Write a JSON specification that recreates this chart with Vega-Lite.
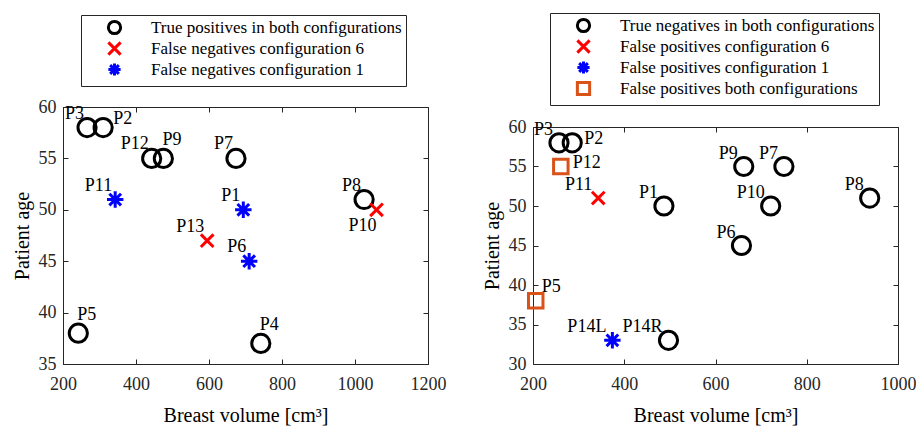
{
  "$schema": "https://vega.github.io/schema/vega-lite/v6.json",
  "background": "white",
  "padding": {"left": 11, "top": 12, "right": 0, "bottom": 0},
  "datasets": {
    "left": [
      {"label": "P3", "vol": 266, "age": 58, "cat": "True positives in both configurations"},
      {"label": "P2", "vol": 310, "age": 58, "cat": "True positives in both configurations"},
      {"label": "P12", "vol": 443, "age": 55, "cat": "True positives in both configurations"},
      {"label": "P9", "vol": 475, "age": 55, "cat": "True positives in both configurations"},
      {"label": "P7", "vol": 674, "age": 55, "cat": "True positives in both configurations"},
      {"label": "P8", "vol": 1025, "age": 51, "cat": "True positives in both configurations"},
      {"label": "P5", "vol": 242, "age": 38, "cat": "True positives in both configurations"},
      {"label": "P4", "vol": 742, "age": 37, "cat": "True positives in both configurations"},
      {"label": "P13", "vol": 595, "age": 47, "cat": "False negatives configuration 6"},
      {"label": "P10", "vol": 1059, "age": 50, "cat": "False negatives configuration 6"},
      {"label": "P11", "vol": 343, "age": 51, "cat": "False negatives configuration 1"},
      {"label": "P1", "vol": 694, "age": 50, "cat": "False negatives configuration 1"},
      {"label": "P6", "vol": 710, "age": 45, "cat": "False negatives configuration 1"}
    ],
    "right": [
      {"label": "P3", "vol": 257, "age": 58, "cat": "True negatives in both configurations"},
      {"label": "P2", "vol": 286, "age": 58, "cat": "True negatives in both configurations"},
      {"label": "P1", "vol": 487, "age": 50, "cat": "True negatives in both configurations"},
      {"label": "P9", "vol": 662, "age": 55, "cat": "True negatives in both configurations"},
      {"label": "P7", "vol": 750, "age": 55, "cat": "True negatives in both configurations"},
      {"label": "P10", "vol": 721, "age": 50, "cat": "True negatives in both configurations"},
      {"label": "P8", "vol": 938, "age": 51, "cat": "True negatives in both configurations"},
      {"label": "P6", "vol": 657, "age": 45, "cat": "True negatives in both configurations"},
      {"label": "P14R", "vol": 497, "age": 33, "cat": "True negatives in both configurations"},
      {"label": "P11", "vol": 343, "age": 51, "cat": "False positives configuration 6"},
      {"label": "P14L", "vol": 374, "age": 33, "cat": "False positives configuration 1"},
      {"label": "P12", "vol": 261, "age": 55, "cat": "False positives both configurations"},
      {"label": "P5", "vol": 206, "age": 38, "cat": "False positives both configurations"}
    ]
  },
  "hconcat": [
    {
      "width": 365,
      "height": 257,
      "data": {"name": "left"},
      "resolve": {"axis": {"x": "independent", "y": "independent"}},
      "layer": [
        {
          "mark": {"type": "point", "filled": false, "strokeWidth": 3, "opacity": 1},
          "encoding": {
            "x": {"field": "vol", "type": "quantitative", "scale": {"domain": [200, 1200], "nice": false}, "axis": {"values": [200, 400, 600, 800, 1000, 1200], "title": "Breast volume [cm³]"}},
            "y": {"field": "age", "type": "quantitative", "scale": {"domain": [35, 60], "nice": false, "zero": false}, "axis": {"values": [35, 40, 45, 50, 55, 60], "title": "Patient age"}},
            "color": {"field": "cat", "type": "nominal",
              "scale": {"domain": ["True positives in both configurations", "False negatives configuration 6", "False negatives configuration 1"], "range": ["#000000", "#FF0000", "#0000FF"]},
              "legend": {"title": null, "orient": "none", "legendX": 18, "legendY": -92}},
            "shape": {"field": "cat", "type": "nominal",
              "scale": {"domain": ["True positives in both configurations", "False negatives configuration 6", "False negatives configuration 1"], "range": ["circle", "M-1,-1L1,1M-1,1L1,-1", "M0,-1L0,1M-1,0L1,0M-0.71,-0.71L0.71,0.71M-0.71,0.71L0.71,-0.71"]},
              "legend": {"title": null, "orient": "none", "legendX": 18, "legendY": -92}},
            "size": {"condition": [
              {"test": "datum.cat == 'True positives in both configurations'", "value": 330},
              {"test": "datum.cat == 'False negatives configuration 6'", "value": 160}
            ], "value": 270}
          }
        },
        {
          "transform": [{"filter": {"field": "label", "oneOf": ["P3", "P12", "P7", "P11", "P1", "P13", "P6", "P8"]}}],
          "mark": {"type": "text", "align": "right", "baseline": "middle", "dx": -3, "dy": -14, "font": "Liberation Serif, Times New Roman, serif", "fontSize": 18, "color": "#000000"},
          "encoding": {
            "x": {"field": "vol", "type": "quantitative", "axis": {"orient": "top", "labels": false, "title": null, "values": [200, 400, 600, 800, 1000, 1200], "domain": false}},
            "y": {"field": "age", "type": "quantitative", "axis": {"orient": "right", "labels": false, "title": null, "values": [35, 40, 45, 50, 55, 60], "domain": false}},
            "text": {"field": "label"}
          }
        },
        {
          "transform": [{"filter": {"field": "label", "oneOf": ["P9", "P5", "P4"]}}],
          "mark": {"type": "text", "align": "left", "baseline": "middle", "dx": -1, "dy": -18, "font": "Liberation Serif, Times New Roman, serif", "fontSize": 18, "color": "#000000"},
          "encoding": {
            "x": {"field": "vol", "type": "quantitative", "axis": null},
            "y": {"field": "age", "type": "quantitative", "axis": null},
            "text": {"field": "label"}
          }
        },
        {
          "transform": [{"filter": {"field": "label", "oneOf": ["P2"]}}],
          "mark": {"type": "text", "align": "left", "baseline": "middle", "dx": 10, "dy": -9, "font": "Liberation Serif, Times New Roman, serif", "fontSize": 18, "color": "#000000"},
          "encoding": {
            "x": {"field": "vol", "type": "quantitative", "axis": null},
            "y": {"field": "age", "type": "quantitative", "axis": null},
            "text": {"field": "label"}
          }
        },
        {
          "transform": [{"filter": {"field": "label", "oneOf": ["P10"]}}],
          "mark": {"type": "text", "align": "right", "baseline": "middle", "dx": 0, "dy": 16, "font": "Liberation Serif, Times New Roman, serif", "fontSize": 18, "color": "#000000"},
          "encoding": {
            "x": {"field": "vol", "type": "quantitative", "axis": null},
            "y": {"field": "age", "type": "quantitative", "axis": null},
            "text": {"field": "label"}
          }
        }
      ]
    },
    {
      "width": 365,
      "height": 257,
      "view": {"stroke": null},
      "data": {"name": "right"},
      "resolve": {"axis": {"x": "independent", "y": "independent"}},
      "layer": [
        {
          "mark": {"type": "point", "filled": false, "strokeWidth": 3, "opacity": 1},
          "encoding": {
            "x": {"field": "vol", "type": "quantitative", "scale": {"domain": [200, 1000], "nice": false}, "axis": {"values": [200, 400, 600, 800, 1000], "title": "Breast volume [cm³]"}},
            "y": {"field": "age", "type": "quantitative", "scale": {"domain": [30, 60], "nice": false, "zero": false, "range": [257, 20]}, "axis": {"values": [30, 35, 40, 45, 50, 55, 60], "title": "Patient age"}},
            "color": {"field": "cat", "type": "nominal",
              "scale": {"domain": ["True negatives in both configurations", "False positives configuration 6", "False positives configuration 1", "False positives both configurations"], "range": ["#000000", "#FF0000", "#0000FF", "#D95319"]},
              "legend": {"title": null, "orient": "none", "legendX": 17, "legendY": -94}},
            "shape": {"field": "cat", "type": "nominal",
              "scale": {"domain": ["True negatives in both configurations", "False positives configuration 6", "False positives configuration 1", "False positives both configurations"], "range": ["circle", "M-1,-1L1,1M-1,1L1,-1", "M0,-1L0,1M-1,0L1,0M-0.71,-0.71L0.71,0.71M-0.71,0.71L0.71,-0.71", "square"]},
              "legend": {"title": null, "orient": "none", "legendX": 17, "legendY": -94}},
            "size": {"condition": [
              {"test": "datum.cat == 'True negatives in both configurations'", "value": 330},
              {"test": "datum.cat == 'False positives configuration 6'", "value": 160},
              {"test": "datum.cat == 'False positives configuration 1'", "value": 270}
            ], "value": 210}
          }
        },
        {
          "transform": [{"filter": {"field": "label", "oneOf": ["P3", "P11", "P1", "P9", "P7", "P10", "P8", "P6", "P14L", "P14R"]}}],
          "mark": {"type": "text", "align": "right", "baseline": "middle", "dx": -6, "dy": -13, "font": "Liberation Serif, Times New Roman, serif", "fontSize": 18, "color": "#000000"},
          "encoding": {
            "x": {"field": "vol", "type": "quantitative", "axis": {"orient": "top", "offset": -20, "labels": false, "title": null, "values": [200, 400, 600, 800, 1000], "domain": true}},
            "y": {"field": "age", "type": "quantitative", "axis": {"orient": "right", "labels": false, "title": null, "values": [30, 35, 40, 45, 50, 55, 60], "domain": true}},
            "text": {"field": "label"}
          }
        },
        {
          "transform": [{"filter": {"field": "label", "oneOf": ["P2", "P12"]}}],
          "mark": {"type": "text", "align": "left", "baseline": "middle", "dx": 12, "dy": -4, "font": "Liberation Serif, Times New Roman, serif", "fontSize": 18, "color": "#000000"},
          "encoding": {
            "x": {"field": "vol", "type": "quantitative", "axis": null},
            "y": {"field": "age", "type": "quantitative", "axis": null},
            "text": {"field": "label"}
          }
        },
        {
          "transform": [{"filter": {"field": "label", "oneOf": ["P5"]}}],
          "mark": {"type": "text", "align": "left", "baseline": "middle", "dx": 6, "dy": -14, "font": "Liberation Serif, Times New Roman, serif", "fontSize": 18, "color": "#000000"},
          "encoding": {
            "x": {"field": "vol", "type": "quantitative", "axis": null},
            "y": {"field": "age", "type": "quantitative", "axis": null},
            "text": {"field": "label"}
          }
        }
      ]
    }
  ],
  "spacing": 35,
  "resolve": {"scale": {"color": "independent", "shape": "independent"}, "legend": {"color": "independent", "shape": "independent"}},
  "config": {
    "font": "Liberation Serif, Times New Roman, serif",
    "view": {"stroke": "#262626", "strokeWidth": 1},
    "axis": {
      "grid": false,
      "format": "d",
      "labelFlush": false,
      "domainColor": "#262626",
      "tickColor": "#262626",
      "tickSize": -5,
      "labelColor": "#262626",
      "labelFont": "Liberation Serif, Times New Roman, serif",
      "labelFontSize": 18,
      "titleFont": "Liberation Serif, Times New Roman, serif",
      "titleFontSize": 20,
      "titleFontWeight": "normal",
      "titleColor": "#000000"
    },
    "axisX": {"labelPadding": 16, "titlePadding": 12},
    "axisY": {"labelPadding": 12, "titlePadding": 6},
    "legend": {
      "labelFont": "Liberation Serif, Times New Roman, serif",
      "labelFontSize": 17,
      "labelColor": "#000000",
      "labelLimit": 500,
      "strokeColor": "#262626",
      "fillColor": "white",
      "padding": 4,
      "rowPadding": -4,
      "symbolSize": 150,
      "symbolStrokeWidth": 3,
      "symbolOffset": 21,
      "labelOffset": 28
    }
  }
}
